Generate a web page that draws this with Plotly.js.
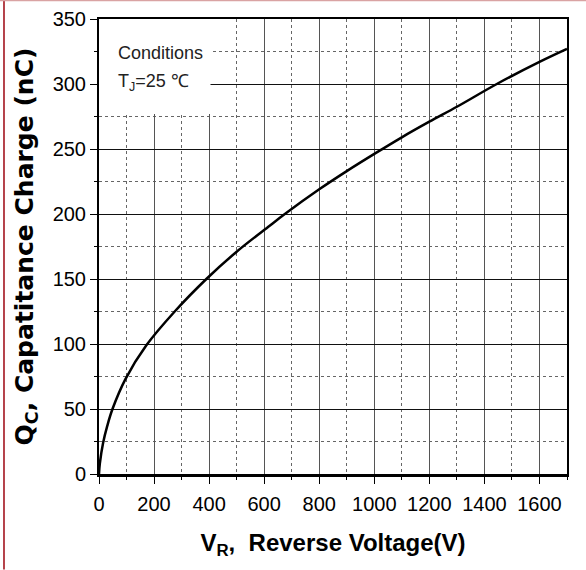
<!DOCTYPE html>
<html>
<head>
<meta charset="utf-8">
<script src="https://cdn.plot.ly/plotly-3.0.1.min.js"></script>
<style>
html,body{margin:0;padding:0;background:#fff;}
#chart{width:586px;height:570px;}
</style>
</head>
<body>
<div id="chart"></div>
<script>
// Reverse voltage (V) and capacitance charge (nC)
const reverseVoltage = [0, 3, 15, 30, 49, 96, 172, 275, 390, 500, 620, 675, 800, 900, 1006, 1100, 1200, 1300, 1445, 1600, 1700];
const capacitanceCharge = [0, 8, 24, 37, 50, 73, 99, 125, 150, 171, 191, 200, 219, 233, 247, 259, 271, 282.5, 300, 317, 327];

const xTickVals = [0, 200, 400, 600, 800, 1000, 1200, 1400, 1600];
const yTickVals = [0, 50, 100, 150, 200, 250, 300, 350];

const sansFamily = 'Liberation Sans, Arial, sans-serif';
const tickFont = {family: sansFamily, size: 20, color: '#000'};

const trace = {
  x: reverseVoltage,
  y: capacitanceCharge,
  type: 'scatter',
  mode: 'lines',
  line: {color: '#000', width: 2.5, shape: 'spline', smoothing: 1},
  hoverinfo: 'skip',
  showlegend: false
};

const layout = {
  width: 586,
  height: 570,
  margin: {l: 99, r: 19, t: 19, b: 96},
  paper_bgcolor: '#fff',
  plot_bgcolor: '#fff',
  showlegend: false,
  xaxis: {
    range: [0, 1700],
    tickvals: xTickVals,
    ticks: 'outside',
    ticklen: 7,
    tickwidth: 1,
    tickcolor: '#000',
    showline: true,
    linecolor: '#000',
    linewidth: 2.5,
    mirror: true,
    showgrid: true,
    gridcolor: '#555',
    gridwidth: 1,
    zeroline: false,
    tickfont: tickFont,
    ticklabelstandoff: 3,
    minor: {dtick: 100, tick0: 0, ticks: 'outside', ticklen: 3, tickcolor: '#000', showgrid: true, griddash: 'dot', gridcolor: '#666', gridwidth: 1},
    title: {text: 'V<sub>R</sub>,  Reverse Voltage(V)', font: {family: sansFamily, size: 24, color: '#000', weight: 'bold'}, standoff: 21},
    fixedrange: true
  },
  yaxis: {
    range: [0, 350],
    tickvals: yTickVals,
    ticks: 'outside',
    ticklen: 7,
    tickwidth: 1,
    tickcolor: '#000',
    showline: true,
    linecolor: '#000',
    linewidth: 2,
    mirror: true,
    showgrid: true,
    gridcolor: '#111',
    gridwidth: 1,
    zeroline: false,
    tickfont: tickFont,
    minor: {dtick: 25, tick0: 0, ticks: 'outside', ticklen: 3, tickcolor: '#000', showgrid: true, griddash: 'dot', gridcolor: '#666', gridwidth: 1},
    title: {text: 'Q<sub>C</sub>, Capatitance Charge (nC)', font: {family: 'DejaVu Sans, sans-serif', size: 25, color: '#000', weight: 'bold'}, standoff: 12},
    fixedrange: true
  },
  shapes: [
    {type: 'rect', xref: 'x', yref: 'y', x0: 0, x1: 405, y0: 277, y1: 350, fillcolor: '#fff', line: {width: 0}, layer: 'between'},
    {type: 'line', xref: 'paper', yref: 'paper', x0: -0.203, x1: -0.203, y0: -0.21, y1: 1.042, line: {color: '#a3151f', width: 1.6}},
    {type: 'line', xref: 'paper', yref: 'paper', x0: -0.212, x1: 1.05, y0: 1.0405, y1: 1.0405, line: {color: '#d9a3a3', width: 1.2}}
  ],
  annotations: [
    {xref: 'x', yref: 'y', x: 60, y: 324, xanchor: 'left', yanchor: 'middle', showarrow: false,
     text: 'Conditions', font: {family: sansFamily, size: 18, color: '#222'}},
    {xref: 'x', yref: 'y', x: 60, y: 301, xanchor: 'left', yanchor: 'middle', showarrow: false,
     text: 'T<sub>J</sub>=25 ℃', font: {family: sansFamily, size: 18, color: '#222'}}
  ]
};

Plotly.newPlot('chart', [trace], layout, {staticPlot: true, displayModeBar: false});
</script>
</body>
</html>
